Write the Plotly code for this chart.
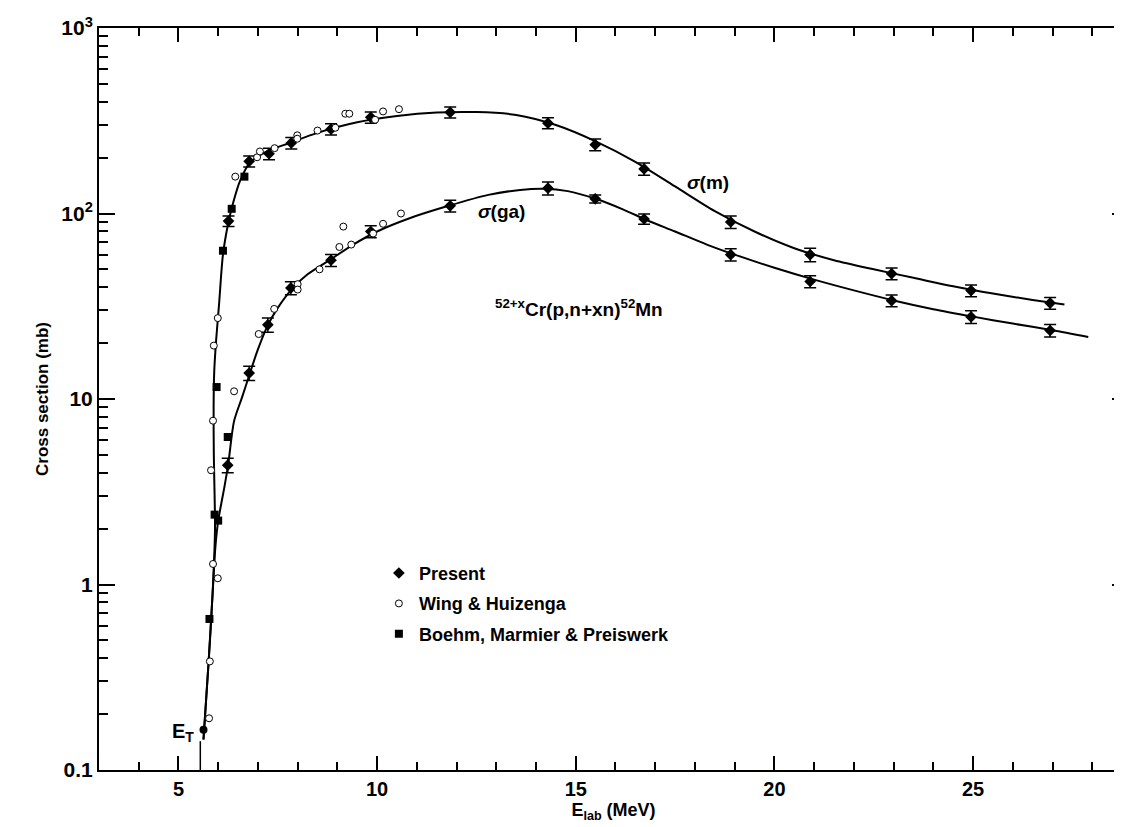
import plotly.graph_objects as go

# ---------------- data ----------------
# Present work, sigma(m) (upper curve)
present_m_x = [6.26, 6.78, 7.28, 7.84, 8.84, 9.84, 11.84, 14.3, 15.49, 16.72, 18.9, 20.9, 22.95, 24.95, 26.94]
present_m_y = [91, 191, 210, 240, 285, 330, 351, 307, 235, 174, 90, 60, 47.4, 38.4, 32.9]
present_m_err = [6, 13, 15, 17, 20, 23, 24, 21, 17, 13, 7, 5, 3.5, 2.8, 2.4]

# Present work, sigma(ga) (lower curve)
present_ga_x = [6.24, 6.78, 7.25, 7.83, 8.84, 9.84, 11.84, 14.3, 15.49, 16.72, 18.9, 20.9, 22.95, 24.95, 26.94]
present_ga_y = [4.4, 13.8, 25.1, 39.7, 56, 80, 110, 137, 120, 93.4, 60, 43, 33.9, 27.7, 23.4]
present_ga_err = [0.4, 1.2, 2.2, 3.2, 4.2, 6, 8, 11, 6, 6, 4.5, 3.2, 2.5, 2.2, 1.8]

# Threshold point
et_point_x = [5.63]
et_point_y = [0.165]
E_T = 5.55
E_T_top = 0.143

# Wing & Huizenga (open circles)
wing_x = [5.77, 5.79, 5.87, 5.99, 5.82, 5.87, 5.89, 5.99, 6.40, 6.43, 6.98, 7.05, 7.42, 7.99, 7.99,
          8.5, 8.95, 9.2, 9.3, 9.95, 10.15, 10.55,
          7.02, 7.41, 8.0, 8.0, 8.55, 9.05, 9.15, 9.35, 9.9, 10.15, 10.6]
wing_y = [0.19, 0.385, 1.29, 1.08, 4.13, 7.64, 19.4, 27.3, 11.0, 158, 201, 216, 225, 264, 253,
          280, 290, 345, 345, 320, 355, 365,
          22.4, 30.6, 41.6, 38.9, 50, 66, 85, 68, 78, 88, 100]

# Boehm, Marmier & Preiswerk (filled squares)
boehm_x = [5.78, 5.91, 6.0, 6.24, 5.96, 6.12, 6.34, 6.66]
boehm_y = [0.652, 2.38, 2.21, 6.24, 11.6, 63, 106, 158]

# Fitted curves
curve_m_x = [5.63, 5.76, 5.86, 5.92, 5.91, 5.89, 5.885, 5.9, 5.95, 6.02, 6.12, 6.25, 6.38, 6.55, 6.8,
             7.2, 7.8, 8.5, 9.5, 10.5, 11.5, 12.5, 13.5, 14.5, 15.5, 16.5, 17.5, 18.5, 19.5, 20.5,
             21.5, 22.5, 23.5, 24.5, 25.5, 26.5, 27.3]
curve_m_y = [0.146, 0.385, 0.9, 2.0, 3.0, 5.0, 9.0, 14, 21, 32, 60, 88, 115, 150, 188,
             215, 240, 272, 310, 335, 350, 352, 340, 300, 245, 190, 140, 103, 80, 65,
             56, 50, 45, 40.5, 37, 34.2, 32.3]

curve_ga_x = [5.63, 5.76, 5.86, 5.93, 6.0, 6.15, 6.25, 6.4, 6.6, 6.8, 7.0, 7.25, 7.5, 7.85, 8.25,
              8.8, 9.4, 10.0, 10.8, 11.8, 12.8, 13.6, 14.2, 14.8, 15.5, 16.2, 16.8, 17.5, 18.3,
              19.0, 20.0, 21.0, 22.0, 23.0, 24.0, 25.0, 26.0, 27.0, 27.9]
curve_ga_y = [0.146, 0.385, 0.9, 1.6, 2.2, 3.3, 4.4, 7.6, 10.2, 13.8, 18.5, 25, 31, 39, 47,
              56, 68, 80, 94, 110, 126, 134, 136, 132, 120, 105, 92, 80, 68,
              60, 51, 44, 38.5, 34, 30.5, 27.8, 25.5, 23.5, 21.6]

y_tickvals = [0.1, 1, 10, 100, 1000]
y_ticktext = ["0.1", "1", "10", "10<sup>2</sup>", "10<sup>3</sup>"]
x_tickvals = [5, 10, 15, 20, 25]

# ---------------- figure ----------------
FONT = "Liberation Sans, Arial, sans-serif"
fig = go.Figure()

line_style = dict(color="black", width=2, shape="spline", smoothing=0.8)
fig.add_trace(go.Scatter(x=curve_m_x, y=curve_m_y, mode="lines", line=line_style,
                         showlegend=False, hoverinfo="skip"))
fig.add_trace(go.Scatter(x=curve_ga_x, y=curve_ga_y, mode="lines", line=line_style,
                         showlegend=False, hoverinfo="skip"))

# E_T marker line
fig.add_trace(go.Scatter(x=[E_T, E_T], y=[0.1, E_T_top], mode="lines",
                         line=dict(color="black", width=1.5), showlegend=False, hoverinfo="skip"))

err_style = dict(type="data", color="black", thickness=1.5, width=6)
fig.add_trace(go.Scatter(x=present_m_x, y=present_m_y, mode="markers",
                         marker=dict(symbol="diamond", size=9, color="black"),
                         error_y=dict(array=present_m_err, **err_style),
                         name="Present", legendgroup="p", showlegend=True))
fig.add_trace(go.Scatter(x=present_ga_x, y=present_ga_y, mode="markers",
                         marker=dict(symbol="diamond", size=9, color="black"),
                         error_y=dict(array=present_ga_err, **err_style),
                         name="Present", legendgroup="p", showlegend=False))
fig.add_trace(go.Scatter(x=et_point_x, y=et_point_y, mode="markers",
                         marker=dict(symbol="circle", size=8, color="black"),
                         name="Present", legendgroup="p", showlegend=False))
fig.add_trace(go.Scatter(x=wing_x, y=wing_y, mode="markers",
                         marker=dict(symbol="circle", size=7, color="white",
                                     line=dict(color="black", width=1)),
                         name="Wing & Huizenga"))
fig.add_trace(go.Scatter(x=boehm_x, y=boehm_y, mode="markers",
                         marker=dict(symbol="square", size=8, color="black"),
                         name="Boehm, Marmier & Preiswerk"))

ann_font = dict(family=FONT, size=19, color="black", weight="bold")
fig.add_annotation(x=17.75, y=2.165, xref="x", yref="y", text="<i>σ</i>(m)", showarrow=False,
                   xanchor="left", yanchor="middle", font=ann_font)
fig.add_annotation(x=12.5, y=2.013, xref="x", yref="y", text="<i>σ</i>(ga)", showarrow=False,
                   xanchor="left", yanchor="middle", font=ann_font)
fig.add_annotation(x=15.07, y=1.49, xref="x", yref="y",
                   text="<sup>52+x</sup>Cr(p,n+xn)<sup>52</sup>Mn", showarrow=False,
                   xanchor="center", yanchor="middle", font=ann_font)
fig.add_annotation(x=E_T, y=-0.80, xref="x", yref="y", text="E<sub>T</sub>", showarrow=False,
                   xanchor="right", yanchor="middle", xshift=-4,
                   font=dict(family=FONT, size=20, color="black", weight="bold"))

axis_common = dict(showgrid=False, zeroline=False, showline=True, linecolor="black", linewidth=2,
                   mirror="ticks", ticks="inside", tickcolor="black", tickwidth=1.5)

fig.update_xaxes(range=[3, 28.9], tickvals=x_tickvals, ticklen=14,
                 tickfont=dict(family=FONT, size=20, color="black", weight="bold"),
                 minor=dict(dtick=1, tick0=0, ticks="inside", ticklen=8, tickcolor="black", tickwidth=1.5),
                 title=dict(text="E<sub>lab</sub> (MeV)", standoff=3,
                            font=dict(family=FONT, size=18, color="black", weight="bold")),
                 **axis_common)
minor_y = [m * 10 ** e for e in range(-1, 3) for m in range(2, 10)]
fig.update_yaxes(type="log", range=[-1, 3], tickvals=y_tickvals, ticktext=y_ticktext, ticklen=16,
                 tickfont=dict(family=FONT, size=21, color="black", weight="bold"),
                 minor=dict(tickvals=minor_y, ticks="inside", ticklen=9, tickcolor="black", tickwidth=1.5),
                 title=dict(text="Cross section (mb)", standoff=8,
                            font=dict(family=FONT, size=17, color="black", weight="bold")),
                 **axis_common)

fig.update_layout(width=1122, height=827, margin=dict(l=91, r=0, t=20, b=65),
                  paper_bgcolor="white", plot_bgcolor="white",
                  legend=dict(x=0.272, y=0.29, xanchor="left", yanchor="top",
                              bgcolor="rgba(0,0,0,0)",
                              font=dict(family=FONT, size=18, color="black", weight="bold"),
                              itemwidth=30, tracegroupgap=4),
                  font=dict(family=FONT, color="black"))

fig.write_html("out.html")
